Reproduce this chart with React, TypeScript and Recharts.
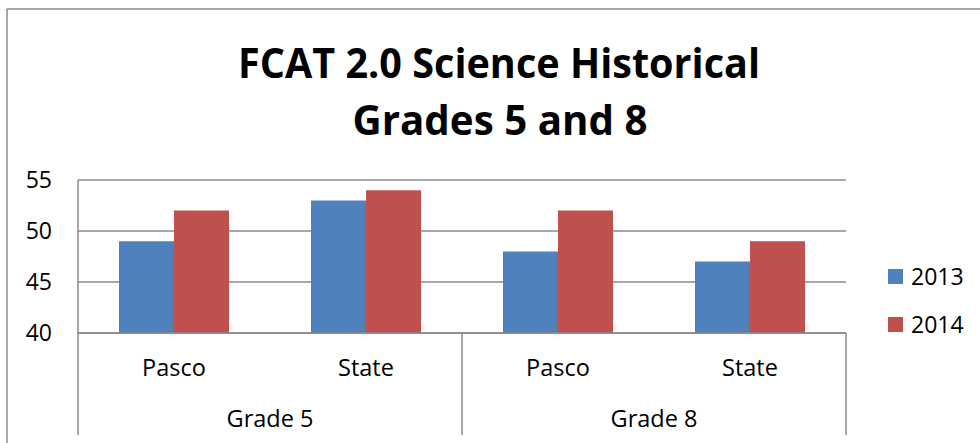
import React from 'react';
import { BarChart, Bar, XAxis, YAxis, CartesianGrid } from 'recharts';

const sites = ['Pasco', 'State', 'Pasco', 'State'];
const grades = ['Grade 5', 'Grade 5', 'Grade 8', 'Grade 8'];
const values2013 = [49, 53, 48, 47];
const values2014 = [52, 54, 52, 49];
const seriesNames = ['2013', '2014'];
const yTicks = [40, 45, 50, 55];
const titleLines = ['FCAT 2.0 Science Historical', 'Grades 5 and 8'];

const data = sites.map((s, i) => ({
  key: `${grades[i]}-${s}`,
  site: s,
  grade: grades[i],
  y2013: values2013[i],
  y2014: values2014[i],
}));

const W = 980;
const H = 443;
const PLOT_LEFT = 78;
const PLOT_RIGHT = 846;
const PLOT_TOP = 180;
const PLOT_BOTTOM = 333;
const HALF_BAND = (PLOT_RIGHT - PLOT_LEFT) / sites.length / 2;
const AXIS_COLOR = '#8a8a8a';
const FONT = '"Open Sans", sans-serif';
const BLUE = '#4F81BD';
const RED = '#C0504D';

const SiteTick = (props: any) => {
  const { x, y, index } = props;
  return (
    <text x={x} y={y + 43} textAnchor="middle" fontFamily={FONT} fontSize={23.5} fill="#000">
      {sites[index]}
    </text>
  );
};

const GradeTick = (props: any) => {
  const { x, y, index } = props;
  const top = PLOT_BOTTOM - y;
  const bottom = 52;
  return (
    <g>
      {index % 2 === 0 && (
        <>
          <line x1={x - HALF_BAND} x2={x - HALF_BAND} y1={y + top} y2={y + bottom} stroke={AXIS_COLOR} strokeWidth={1.5} />
          <text x={x + HALF_BAND} y={y + 44} textAnchor="middle" fontFamily={FONT} fontSize={23.5} fill="#000">
            {grades[index]}
          </text>
        </>
      )}
      {index === sites.length - 1 && (
        <line x1={x + HALF_BAND} x2={x + HALF_BAND} y1={y + top} y2={y + bottom} stroke={AXIS_COLOR} strokeWidth={1.5} />
      )}
    </g>
  );
};

export default function App() {
  return (
    <div style={{ position: 'absolute', left: 0, top: 0, width: W, height: H, background: '#fff', overflow: 'hidden' }}>
      <svg width={W} height={H} style={{ position: 'absolute', left: 0, top: 0 }}>
        <line x1={7} y1={9} x2={W} y2={9} stroke={AXIS_COLOR} strokeWidth={1.5} />
        <line x1={7} y1={9} x2={7} y2={H} stroke={AXIS_COLOR} strokeWidth={1.5} />
        <text x={499} y={78} textAnchor="middle" fontFamily={FONT} fontWeight={700} fontSize={41} fill="#000" textLength={522} lengthAdjust="spacingAndGlyphs">
          {titleLines[0]}
        </text>
        <text x={500} y={135} textAnchor="middle" fontFamily={FONT} fontWeight={700} fontSize={41} fill="#000" textLength={295} lengthAdjust="spacingAndGlyphs">
          {titleLines[1]}
        </text>
      </svg>
      <div style={{ position: 'absolute', left: 0, top: 0 }}>
        <BarChart
          width={W}
          height={H}
          data={data}
          margin={{ top: PLOT_TOP, right: W - PLOT_RIGHT, bottom: 0, left: 8 }}
          barGap={0}
          barSize={55}
        >
          <CartesianGrid horizontal vertical={false} stroke={AXIS_COLOR} strokeWidth={1.5} />
          <YAxis
            width={PLOT_LEFT - 8}
            domain={[40, 55]}
            ticks={yTicks}
            interval={0}
            tickLine={false}
            tickSize={0}
            tickMargin={26}
            axisLine={{ stroke: AXIS_COLOR, strokeWidth: 1.5 }}
            tick={{ fontFamily: FONT, fontSize: 23, fill: '#000' }}
          />
          <XAxis
            xAxisId="a"
            dataKey="key"
            height={50}
            interval={0}
            tickLine={false}
            tickSize={0}
            tickMargin={0}
            axisLine={{ stroke: AXIS_COLOR, strokeWidth: 1.5 }}
            tick={<SiteTick />}
          />
          <XAxis
            xAxisId="b"
            dataKey="key"
            height={60}
            interval={0}
            tickLine={false}
            tickSize={0}
            tickMargin={0}
            axisLine={false}
            tick={<GradeTick />}
          />
          <Bar xAxisId="a" dataKey="y2013" name={seriesNames[0]} fill={BLUE} isAnimationActive={false} />
          <Bar xAxisId="a" dataKey="y2014" name={seriesNames[1]} fill={RED} isAnimationActive={false} />
        </BarChart>
      </div>
      <div style={{ position: 'absolute', left: 888, top: 252, fontFamily: FONT, fontSize: 23, color: '#000' }}>
        {seriesNames.map((n, i) => (
          <div key={n} style={{ display: 'flex', alignItems: 'center', height: 48 }}>
            <span style={{ display: 'inline-block', width: 15, height: 15, background: i === 0 ? BLUE : RED, marginRight: 8 }} />
            <span>{n}</span>
          </div>
        ))}
      </div>
    </div>
  );
}
